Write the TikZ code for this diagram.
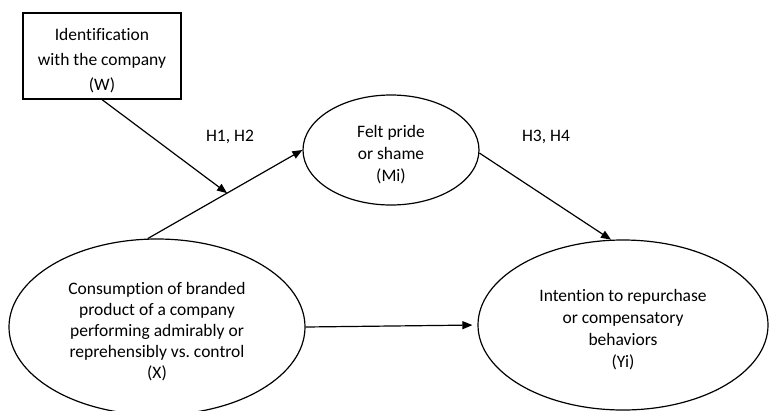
\documentclass[tikz,border=0pt]{standalone}
\usepackage{fontspec}
\setmainfont{Carlito}[Ligatures=NoCommon]
\usetikzlibrary{shapes.geometric,arrows.meta,calc}
\newcommand{\dropstrut}{\rule{0pt}{21.5pt}}
\frenchspacing
\begin{document}
\begin{tikzpicture}[x=1pt,y=-1pt,
  every node/.style={align=center, inner sep=0pt},
  oval/.style={draw, ellipse, line width=1.2pt},
  boxnode/.style={draw, rectangle, line width=1.2pt},
  arr/.style={line width=1.2pt, -{Triangle[length=10pt,width=8pt]}},
  lbl/.style={font=\fontsize{17.5}{21}\selectfont}]
\useasboundingbox (0,0) rectangle (770,410);
\node[boxnode, minimum width=158pt, minimum height=86pt,
  font=\fontsize{17.5}{25}\selectfont] (W) at (102,56)
  {\dropstrut Identification\\with the company\\(W)};
\node[oval, minimum width=176pt, minimum height=110pt,
  font=\fontsize{17.5}{22}\selectfont] (Mi) at (391,150)
  {\dropstrut Felt pride\\or shame\\(Mi)};
\node[oval, minimum width=296pt, minimum height=176pt,
  font=\fontsize{17.5}{21}\selectfont] (X) at (157,327)
  {\dropstrut Consumption of branded\\product of a company\\performing admirably or\\reprehensibly vs. control\\(X)};
\node[oval, minimum width=290pt, minimum height=170pt,
  font=\fontsize{17.5}{22}\selectfont] (Y) at (623,325)
  {\dropstrut Intention to repurchase\\or compensatory\\behaviors\\(Yi)};
\draw[arr] (X.96) -- (Mi.west);
\coordinate (m) at ($(X.96)!0.513!(Mi.west)$);
\draw[arr] (W.south) -- (m);
\draw[arr] (Mi.-2) -- (Y.98);
\draw[arr, shorten >=5pt] (X.east) -- (Y.west);
\node[lbl] (h12) at (230,137) {H1, H2};
\node[lbl] (h34) at (546,137) {H3, H4};
\end{tikzpicture}
\end{document}
